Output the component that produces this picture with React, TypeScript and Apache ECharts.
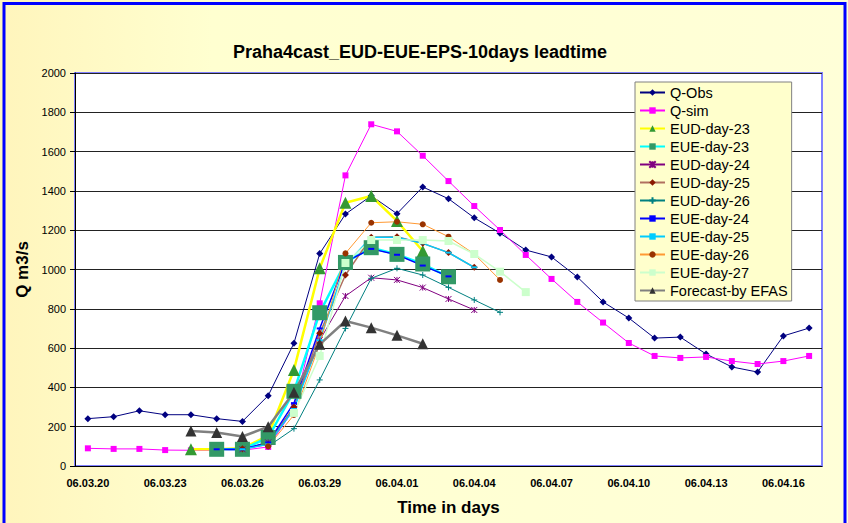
import React, { useEffect, useRef } from "react";
import * as echarts from "echarts";

const categories = [
  "06.03.20", "06.03.21", "06.03.22", "06.03.23", "06.03.24", "06.03.25", "06.03.26", "06.03.27",
  "06.03.28", "06.03.29", "06.03.30", "06.03.31", "06.04.01", "06.04.02", "06.04.03", "06.04.04",
  "06.04.05", "06.04.06", "06.04.07", "06.04.08", "06.04.09", "06.04.10", "06.04.11", "06.04.12",
  "06.04.13", "06.04.14", "06.04.15", "06.04.16", "06.04.17",
];

const yTicks = [0, 200, 400, 600, 800, 1000, 1200, 1400, 1600, 1800, 2000];

const qObs = [241, 251, 281, 261, 261, 241, 227, 358, 625, 1081, 1282, 1375, 1284, 1420, 1360, 1263, 1185, 1099, 1064, 962, 835, 753, 651, 656, 570, 504, 478, 662, 702];
const qSim = [90, 87, 87, 81, 80, 80, 80, 97, 290, 828, 1479, 1739, 1703, 1579, 1450, 1323, 1201, 1074, 952, 835, 730, 626, 560, 550, 555, 534, 519, 534, 560];

const eudDay23Start = "06.03.24";
const eudDay23 = [85, 85, 90, 155, 489, 1006, 1340, 1374, 1247, 1094];
const eueDay23Start = "06.03.25";
const eueDay23 = [85, 85, 145, 380, 780, 1036, 1111, 1077, 1028, 963];
const eudDay24Start = "06.03.26";
const eudDay24 = [85, 120, 300, 640, 865, 958, 947, 908, 850, 794];
const eudDay25Start = "06.03.26";
const eudDay25 = [88, 110, 300, 675, 972, 1164, 1167, 1133, 1086, 1011];
const eudDay26Start = "06.03.27";
const eudDay26 = [100, 190, 438, 700, 955, 1006, 972, 909, 845, 782];
const eueDay24Start = "06.03.25";
const eueDay24 = [85, 85, 120, 320, 700, 1040, 1105, 1075, 1020, 965];
const eueDay25Start = "06.03.26";
const eueDay25 = [85, 110, 290, 640, 1023, 1164, 1164, 1133, 1086, 1011];
const eueDay26Start = "06.03.27";
const eueDay26 = [100, 260, 620, 1082, 1238, 1243, 1230, 1167, 1079, 947];
const eueDay27Start = "06.03.28";
const eueDay27 = [270, 560, 1033, 1150, 1150, 1150, 1145, 1079, 989, 885];
const efasStart = "06.03.24";
const efas = [178, 171, 150, 200, 375, 619, 738, 704, 665, 622];

function pad(start: string, values: number[]) {
  const s = categories.indexOf(start);
  return categories.map((_, i) => (i >= s && i - s < values.length ? values[i - s] : null));
}

const FONT = "'Liberation Sans', Arial, sans-serif";
const crossPath = "path://M5,0L5,10M0,5L10,5";
const xPath = "path://M0,0L10,10M10,0L0,10M5,0L5,10";

export default function App() {
  const ref = useRef<HTMLDivElement>(null);
  useEffect(() => {
    if (!ref.current) return;
    const chart = echarts.init(ref.current, null, { renderer: "svg" });
    const line = (
      name: string,
      data: (number | null)[],
      lineColor: string,
      width: number,
      symbol: string,
      size: number | number[],
      markColor: string,
      extra: any = {}
    ) => ({
      name,
      type: "line",
      data,
      lineStyle: { color: lineColor, width },
      symbol,
      symbolSize: size,
      showSymbol: true,
      itemStyle: { color: markColor, borderColor: markColor, borderWidth: extra.bw ?? 0 },
      emphasis: { disabled: true },
    });
    chart.setOption({
      animation: false,
      backgroundColor: {
        type: "linear", x: 0, y: 0, x2: 1, y2: 0,
        colorStops: [
          { offset: 0, color: "#FFF5BC" },
          { offset: 0.25, color: "#FFFFD0" },
          { offset: 1, color: "#FFFFD8" },
        ],
      },
      textStyle: { fontFamily: FONT },
      title: {
        text: "Praha4cast_EUD-EUE-EPS-10days leadtime",
        left: 415,
        textAlign: "center",
        top: 38,
        textStyle: { fontSize: 18, fontWeight: "bold", color: "#000", fontFamily: FONT },
      },
      graphic: [
        {
          type: "rect",
          shape: { x: 4, y: 3.5, width: 841, height: 530 },
          style: { fill: "none", stroke: "#0000FF", lineWidth: 3 },
          silent: true,
        },
      ],
      legend: {
        orient: "vertical",
        left: 635,
        top: 82,
        itemWidth: 25,
        itemHeight: 8,
        itemGap: 3,
        padding: [3, 4, 3, 4],
        backgroundColor: "#FFFFCC",
        borderColor: "#808080",
        borderWidth: 1,
        textStyle: { fontSize: 14.5, color: "#000", lineHeight: 14, fontFamily: FONT },
      },
      grid: {
        left: 75,
        right: 26,
        top: 73,
        bottom: 57,
        show: true,
        backgroundColor: "#FFFFFF",
        borderColor: "#8080FF",
        borderWidth: 2,
      },
      xAxis: {
        type: "category",
        data: categories,
        boundaryGap: true,
        name: "Time in days",
        nameLocation: "middle",
        nameGap: 33,
        nameTextStyle: { fontSize: 17, fontWeight: "bold", color: "#000", fontFamily: FONT },
        axisLine: { lineStyle: { color: "#000", width: 1 } },
        axisTick: { interval: 2, alignWithLabel: false, length: 5, lineStyle: { color: "#000" } },
        axisLabel: { interval: 2, fontSize: 11, fontWeight: "bold", color: "#000", margin: 11, fontFamily: FONT },
        splitLine: { show: false },
      },
      yAxis: {
        type: "value",
        min: yTicks[0],
        max: yTicks[yTicks.length - 1],
        interval: 200,
        name: "Q m3/s",
        nameLocation: "middle",
        nameGap: 14,
        nameTextStyle: { fontSize: 17, fontWeight: "bold", color: "#000", fontFamily: FONT },
        axisLine: { show: true, lineStyle: { color: "#000", width: 1 } },
        axisTick: { show: true, length: 5, lineStyle: { color: "#000" } },
        axisLabel: { fontSize: 11, color: "#000", margin: 9, fontFamily: FONT, formatter: (v: number) => String(v) },
        splitLine: { lineStyle: { color: "#222", width: 1 } },
      },
      series: [
        line("Q-Obs", qObs, "#000080", 1, "diamond", 7, "#000080"),
        line("Q-sim", qSim, "#FF00FF", 1, "rect", 6, "#FF00FF"),
        line("EUD-day-23", pad(eudDay23Start, eudDay23), "#FFFF00", 2.5, "triangle", 12, "#339933"),
        line("EUE-day-23", pad(eueDay23Start, eueDay23), "#00FFFF", 2.5, "rect", 15, "#339966"),
        line("EUD-day-24", pad(eudDay24Start, eudDay24), "#800080", 1, xPath, 6, "#800080", { bw: 1 }),
        line("EUD-day-25", pad(eudDay25Start, eudDay25), "#B07060", 1.5, "diamond", 7, "#8B1A00"),
        line("EUD-day-26", pad(eudDay26Start, eudDay26), "#008080", 1, crossPath, 6, "#008080", { bw: 1 }),
        line("EUE-day-24", pad(eueDay24Start, eueDay24), "#0000FF", 1.5, "rect", [6, 2], "#0000FF"),
        line("EUE-day-25", pad(eueDay25Start, eueDay25), "#00CCFF", 1.5, "rect", [6, 2], "#00CCFF"),
        line("EUE-day-26", pad(eueDay26Start, eueDay26), "#FF9933", 1, "circle", 6, "#993300"),
        line("EUE-day-27", pad(eueDay27Start, eueDay27), "#CCFFCC", 1.5, "rect", 8, "#CCFFCC"),
        line("Forecast-by EFAS", pad(efasStart, efas), "#808080", 2.5, "triangle", 11, "#333333"),
      ],
    });
    return () => chart.dispose();
  }, []);
  return (
    <div
      ref={ref}
      style={{ position: "fixed", left: 0, top: 0, width: 848, height: 523 }}
    />
  );
}
